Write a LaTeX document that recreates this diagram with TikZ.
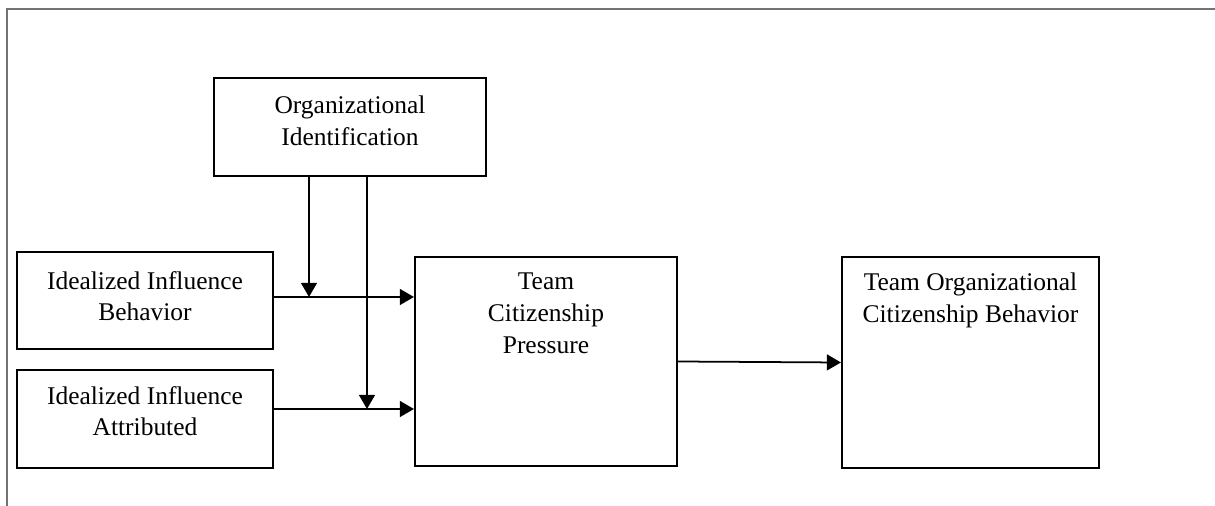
\documentclass[tikz,border=0pt]{standalone}
\usepackage{fontspec}
\setmainfont{Liberation Serif}
\usetikzlibrary{arrows.meta,positioning}

\tikzset{
  box/.style={draw, line width=1.2pt, inner sep=0pt},
  lbl/.style={align=center, font=\fontsize{14.5}{18}\selectfont, inner sep=0pt, anchor=north},
  arr/.style={line width=1pt, -{Triangle[length=8pt,width=9pt]}},
}

\begin{document}
\begin{tikzpicture}[x=0.02cm, y=-0.02cm]
  \useasboundingbox (0,0) rectangle (1215,506);
  % Frame
  \draw[black!55, line width=1.1pt] (7,506) -- (7,9) -- (1215,9);

  % Moderator
  \node[box, minimum width=5.44cm, minimum height=1.96cm] (org) at (350,127) {};
  \node[lbl] (orgtxt) at ([yshift=-0.38cm]org.north) {Organizational\\Identification};

  % Predictors
  \node[box, minimum width=5.12cm, minimum height=1.94cm] (iib) at (145,300.5) {};
  \node[lbl] (iibtxt) at ([yshift=-0.4cm]iib.north) {Idealized Influence\\Behavior};
  \node[box, minimum width=5.12cm, minimum height=1.96cm] (iia) at (145,419) {};
  \node[lbl] (iiatxt) at ([yshift=-0.34cm]iia.north) {Idealized Influence\\Attributed};

  % Mediator and outcome
  \node[box, minimum width=5.24cm, minimum height=4.18cm] (tcp) at (546,361.5) {};
  \node[lbl] (tcptxt) at ([yshift=-0.34cm]tcp.north) {Team\\Citizenship\\Pressure};
  \node[box, minimum width=5.14cm, minimum height=4.22cm] (tocb) at (970.5,362.5) {};
  \node[lbl] (tocbtxt) at ([yshift=-0.34cm]tocb.north) {Team Organizational\\Citizenship Behavior};

  % Paths
  \coordinate (m1) at (309,297);
  \coordinate (m2) at (367,409);
  \draw[arr] ([yshift=0.07cm]iib.east) -- (m1 -| tcp.west);
  \draw[arr] ([yshift=0.2cm]iia.east) -- (m2 -| tcp.west);
  \draw[arr] (org.south -| m1) -- (m1);
  \draw[arr] (org.south -| m2) -- (m2);
  \draw[arr] (tcp.east) -- (tocb.west);
\end{tikzpicture}
\end{document}
